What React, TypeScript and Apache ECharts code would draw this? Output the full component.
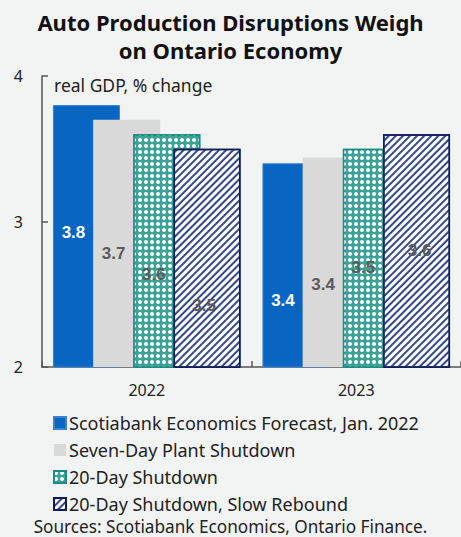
import React, { useEffect, useRef } from "react";
import * as echarts from "echarts";

const categories = ["2022", "2023"];
const seriesNames = [
  "Scotiabank Economics Forecast, Jan. 2022",
  "Seven-Day Plant Shutdown",
  "20-Day Shutdown",
  "20-Day Shutdown, Slow Rebound",
];
const forecastValues = [3.8, 3.4];
const sevenDayValues = [3.7, 3.44];
const twentyDayValues = [3.6, 3.5];
const slowReboundValues = [3.5, 3.6];
const yTicks = [2, 3, 4];

const titleText = "Auto Production Disruptions Weigh\non Ontario Economy";
const unitText = "real GDP, % change";
const sourceText = "Sources: Scotiabank Economics, Ontario Finance.";

// label offsets (style): [series][category] -> [dx, dy] from bar centre
const labelOffsets = [
  [[-13, -4], [-13, 35]],
  [[-13, 10], [-13, 22]],
  [[-13, 24], [-13, 9]],
  [[-3, 47], [3, 0]],
];

export default function App() {
  const ref = useRef<HTMLDivElement>(null);
  useEffect(() => {
    document.body.style.margin = "0";
    const chart = echarts.init(ref.current!, null, { renderer: "svg" });
    const font = "Noto Sans";
    const labelFont = "Liberation Sans";
    const allValues = [forecastValues, sevenDayValues, twentyDayValues, slowReboundValues];
    const styles = [
      { color: "#0866c2", borderColor: "#3a80d2", borderWidth: 1 },
      { color: "#d9d9d9", borderWidth: 0 },
      {
        color: "#3aa396",
        borderColor: "#1a8c82",
        borderWidth: 1.5,
        decal: {
          symbol: "circle",
          color: "#ffffff",
          dashArrayX: [3.6, 1.6],
          dashArrayY: [3.6, 1.6],
          rotation: 0,
          symbolSize: 1,
        },
      },
      {
        color: "#ffffff",
        borderColor: "#0c1c5c",
        borderWidth: 1.5,
        decal: {
          symbol: "rect",
          color: "#34488c",
          dashArrayX: [1.1, 2.4],
          dashArrayY: [1, 0],
          rotation: Math.PI / 4,
          symbolSize: 1,
        },
      },
    ];
    const labelColors = ["#ffffff", "#5a5a5a", "#5a5a5a", "#5a5a5a"];
    const series = seriesNames.map((name, si) => ({
      type: "bar",
      name,
      barWidth: 67,
      barGap: "-40%",
      itemStyle: styles[si],
      data: allValues[si].map((v, ci) => ({
        value: v,
        label: {
          show: true,
          position: "inside",
          offset: labelOffsets[si][ci],
          formatter: (p: any) => Number(p.value).toFixed(1),
          color: labelColors[si],
          fontSize: 17,
          fontWeight: "bold",
          fontFamily: labelFont,
        },
      })),
    }));
    chart.setOption({
      animation: false,
      backgroundColor: "#f2f3f3",
      title: {
        text: titleText,
        left: "center",
        top: 8,
        padding: 0,
        textStyle: {
          fontFamily: font,
          fontSize: 22,
          fontWeight: "bold",
          lineHeight: 28,
          color: "#111111",
        },
      },
      grid: { left: 42, top: 76, width: 420, height: 291, containLabel: false },
      legend: {
        orient: "vertical",
        left: 53,
        top: 414,
        padding: 0,
        itemGap: 9,
        itemWidth: 12,
        itemHeight: 12,
        icon: "rect",
        data: seriesNames,
        textStyle: { fontFamily: font, fontSize: 18, lineHeight: 18, color: "#222222", padding: [0, 0, 0, -2] },
      },
      xAxis: {
        type: "category",
        data: categories,
        axisLine: { lineStyle: { color: "#555555", width: 1.5 } },
        axisTick: { show: true, inside: true, length: 6, lineStyle: { color: "#555555", width: 1.5 } },
        axisLabel: { fontFamily: font, fontSize: 16, color: "#222222", margin: 15 },
      },
      yAxis: {
        type: "value",
        min: yTicks[0],
        max: yTicks[yTicks.length - 1],
        interval: 1,
        splitLine: { show: false },
        axisLine: { show: true, lineStyle: { color: "#555555", width: 1.5 } },
        axisTick: { show: true, inside: true, length: 6, lineStyle: { color: "#555555", width: 1.5 } },
        axisLabel: { fontFamily: font, fontSize: 16, color: "#222222", margin: 19 },
      },
      graphic: [
        {
          type: "text",
          left: 54,
          top: 76,
          style: { text: unitText, fontFamily: font, fontSize: 17.5, fill: "#222222" },
        },
        {
          type: "text",
          left: "center",
          top: 517,
          style: { text: sourceText, fontFamily: font, fontSize: 17.2, lineHeight: 18, fill: "#222222" },
        },
      ],
      series,
    });
    return () => chart.dispose();
  }, []);
  return <div ref={ref} style={{ width: 461, height: 537 }} />;
}
